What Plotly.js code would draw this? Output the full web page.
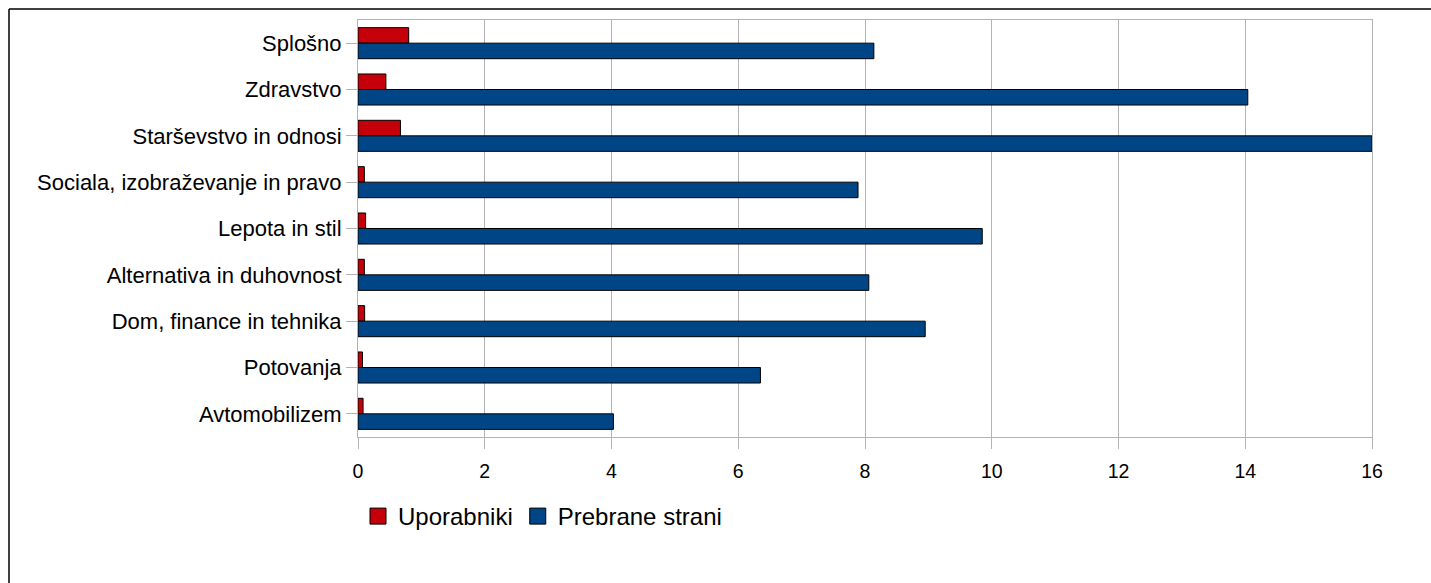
<!DOCTYPE html>
<html>
<head>
<meta charset="utf-8">
<script src="https://cdn.plot.ly/plotly-3.0.1.min.js"></script>
<style>
  html, body { margin: 0; padding: 0; background: #ffffff; }
  #chart { width: 1431px; height: 583px; }
</style>
</head>
<body>
<div id="chart"></div>
<script>
const categories = [
  "Splošno",
  "Zdravstvo",
  "Starševstvo in odnosi",
  "Sociala, izobraževanje in pravo",
  "Lepota in stil",
  "Alternativa in duhovnost",
  "Dom, finance in tehnika",
  "Potovanja",
  "Avtomobilizem"
];
const uporabniki = [0.80, 0.44, 0.67, 0.10, 0.12, 0.10, 0.105, 0.07, 0.08];
const prebraneStrani = [8.14, 14.04, 16.0, 7.89, 9.85, 8.06, 8.95, 6.35, 4.03];
const seriesNames = ["Uporabniki", "Prebrane strani"];
const seriesColors = ["#c5000b", "#004586"];
const xTicks = [0, 2, 4, 6, 8, 10, 12, 14, 16];

const FONT = '"Liberation Sans", Arial, sans-serif';

const seriesValues = [uporabniki, prebraneStrani];
const traces = [];
seriesValues.forEach((vals, i) => {
  traces.push({
    type: 'bar', orientation: 'h', name: seriesNames[i],
    legendgroup: 'g' + i, showlegend: false,
    y: categories, x: vals,
    marker: { color: seriesColors[i], line: { color: '#000000', width: 1 } },
    hoverinfo: 'x+y'
  });
});
// legend entries with larger square keys
seriesNames.forEach((nm, i) => {
  traces.push({
    type: 'scatter', mode: 'markers', name: nm,
    legendgroup: 'g' + i, showlegend: true,
    x: [null], y: [null],
    marker: { symbol: 'square', size: 16, color: seriesColors[i], line: { color: '#000000', width: 1 } },
    hoverinfo: 'skip'
  });
});

const L = 358, R = 1372, T = 20, B = 437, W = 1431, H = 583;
const pw = R - L, ph = B - T;
const px = v => (v - L) / pw;
const py = v => (B - v) / ph;

const layout = {
  width: W, height: H,
  margin: { l: L, r: W - R, t: T, b: H - B, pad: 0 },
  paper_bgcolor: '#ffffff',
  plot_bgcolor: '#ffffff',
  font: { family: FONT, color: '#000000' },
  barmode: 'group',
  bargap: 0.33,
  bargroupgap: 0,
  showlegend: true,
  legend: {
    orientation: 'h',
    x: px(358), xanchor: 'left',
    y: py(494), yanchor: 'top',
    font: { family: FONT, size: 24, color: '#000000' },
    bgcolor: 'rgba(0,0,0,0)',
    traceorder: 'normal',
    itemsizing: 'trace'
  },
  xaxis: {
    range: [0, 16],
    tickmode: 'array',
    tickvals: xTicks,
    ticktext: xTicks.map(String),
    ticks: 'outside', ticklen: 11, tickcolor: '#b3b3b3', tickwidth: 1,
    ticklabelstandoff: 6,
    tickfont: { family: FONT, size: 19.5, color: '#000000' },
    showgrid: true, gridcolor: '#b3b3b3', gridwidth: 1,
    zeroline: false,
    showline: true, linecolor: '#b3b3b3', linewidth: 1, mirror: true,
    fixedrange: true
  },
  yaxis: {
    type: 'category',
    categoryarray: categories,
    autorange: 'reversed',
    ticks: 'outside', ticklen: 11, tickcolor: '#b3b3b3', tickwidth: 1,
    tickfont: { family: FONT, size: 22, color: '#000000' },
    showgrid: false,
    zeroline: false,
    showline: true, linecolor: '#b3b3b3', linewidth: 1, mirror: true,
    fixedrange: true
  },
  shapes: [
    { type: 'line', xref: 'paper', yref: 'paper',
      x0: px(9), x1: px(9), y0: py(H + 5), y1: py(9),
      line: { color: '#000000', width: 1.5 } },
    { type: 'line', xref: 'paper', yref: 'paper',
      x0: px(9), x1: px(W + 5), y0: py(9), y1: py(9),
      line: { color: '#000000', width: 1.5 } }
  ]
};

Plotly.newPlot('chart', traces, layout, { displayModeBar: false, staticPlot: true });
</script>
</body>
</html>
